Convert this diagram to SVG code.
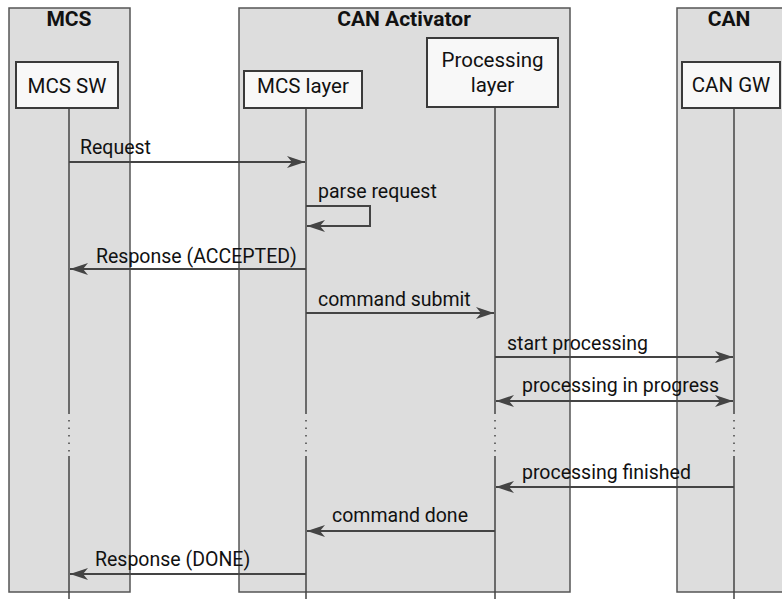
<svg xmlns="http://www.w3.org/2000/svg" width="782" height="599" viewBox="0 0 782 599">
  <style>
    .group { fill: #dddddd; stroke: #555555; stroke-width: 1.5; }
    .title { font-family: Roboto, "Liberation Sans", sans-serif; font-size: 21px; font-weight: bold; fill: #111111; text-anchor: middle; }
    .actor { fill: #f8f8f8; stroke: #3a3a3a; stroke-width: 2; }
    .actor-text { font-family: Roboto, "Liberation Sans", sans-serif; font-size: 20.5px; fill: #111111; text-anchor: middle; }
    .life { stroke: #444444; stroke-width: 1.5; fill: none; }
    .dots { stroke: #444444; stroke-width: 1.5; stroke-dasharray: 1.5 6; fill: none; }
    .msg { stroke: #444444; stroke-width: 2; fill: none; }
    .label { font-family: Roboto, "Liberation Sans", sans-serif; font-size: 19.5px; fill: #111111; }
  </style>
  <defs>
    <marker id="arrow" viewBox="-18 -7 20 14" refX="0" refY="0" markerUnits="userSpaceOnUse" markerWidth="20" markerHeight="14" orient="auto-start-reverse">
      <path d="M0,0 L-18,-6 L-13,0 L-18,6 z" fill="#444444"/>
    </marker>
  </defs>

  <rect width="782" height="599" fill="#ffffff"/>

  <!-- group frames -->
  <g id="group-mcs">
    <rect class="group" x="9" y="8" width="121" height="584"/>
    <text class="title" x="69" y="26">MCS</text>
  </g>
  <g id="group-can-activator">
    <rect class="group" x="239" y="8" width="331" height="584"/>
    <text class="title" x="404" y="26">CAN Activator</text>
  </g>
  <g id="group-can">
    <rect class="group" x="677" y="8" width="120" height="584"/>
    <text class="title" x="729" y="26">CAN</text>
  </g>

  <!-- lifelines -->
  <g id="lifelines">
    <path class="life" d="M69,108 V414 M69,456 V599"/>
    <path class="dots" d="M69,420 V454"/>
    <path class="life" d="M306,108 V414 M306,456 V599"/>
    <path class="dots" d="M306,420 V454"/>
    <path class="life" d="M495,108 V414 M495,456 V599"/>
    <path class="dots" d="M495,420 V454"/>
    <path class="life" d="M734,108 V414 M734,456 V599"/>
    <path class="dots" d="M734,420 V454"/>
  </g>

  <!-- participants -->
  <g id="mcs-sw">
    <rect class="actor" x="16" y="62" width="102" height="46"/>
    <text class="actor-text" x="67" y="93">MCS SW</text>
  </g>
  <g id="mcs-layer">
    <rect class="actor" x="244" y="71" width="118" height="37"/>
    <text class="actor-text" x="303" y="93">MCS layer</text>
  </g>
  <g id="processing-layer">
    <rect class="actor" x="427" y="38" width="131" height="69"/>
    <text class="actor-text" x="492.5" y="67">Processing</text>
    <text class="actor-text" x="492.5" y="92">layer</text>
  </g>
  <g id="can-gw">
    <rect class="actor" x="682" y="62" width="98" height="46"/>
    <text class="actor-text" x="731" y="92">CAN GW</text>
  </g>

  <!-- messages -->
  <g id="connectors">
    <path class="msg" d="M69,162 H305" marker-end="url(#arrow)"/>
    <text class="label" x="80" y="154">Request</text>

    <path class="msg" d="M306,206 H370 V226 H307" marker-end="url(#arrow)"/>
    <text class="label" x="318" y="198">parse request</text>

    <path class="msg" d="M306,269 H70" marker-end="url(#arrow)"/>
    <text class="label" x="96" y="263">Response (ACCEPTED)</text>

    <path class="msg" d="M306,313 H494" marker-end="url(#arrow)"/>
    <text class="label" x="318" y="306">command submit</text>

    <path class="msg" d="M495,357 H733" marker-end="url(#arrow)"/>
    <text class="label" x="507" y="350">start processing</text>

    <path class="msg" d="M496,401 H733" marker-start="url(#arrow)" marker-end="url(#arrow)"/>
    <text class="label" x="522" y="392">processing in progress</text>

    <path class="msg" d="M734,487 H496" marker-end="url(#arrow)"/>
    <text class="label" x="522" y="479">processing finished</text>

    <path class="msg" d="M495,531 H307" marker-end="url(#arrow)"/>
    <text class="label" x="332" y="522">command done</text>

    <path class="msg" d="M306,574 H70" marker-end="url(#arrow)"/>
    <text class="label" x="95" y="566">Response (DONE)</text>
  </g>
</svg>
